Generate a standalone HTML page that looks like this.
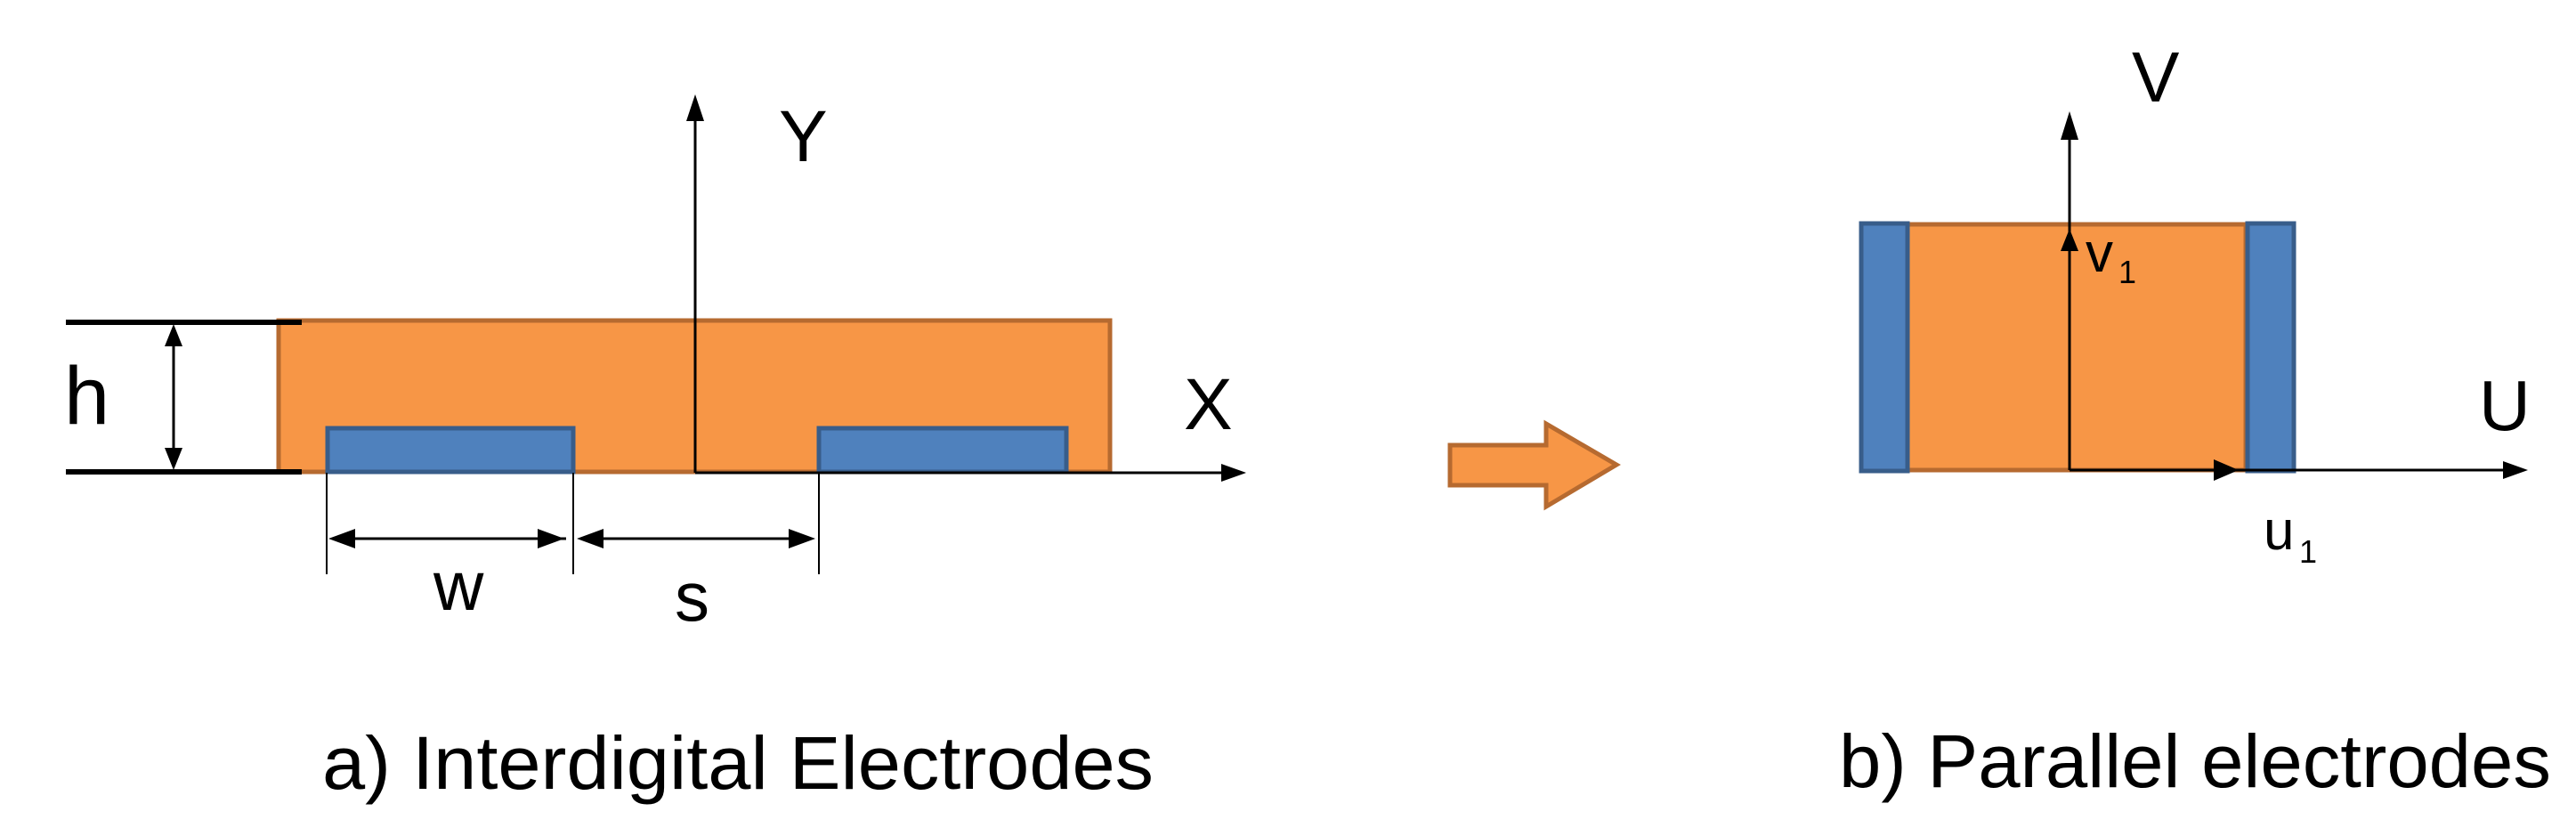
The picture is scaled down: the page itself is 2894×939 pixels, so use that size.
<!DOCTYPE html>
<html><head><style>html,body{margin:0;padding:0;background:#fff}svg{display:block}</style></head>
<body>
<svg width="2894" height="939" viewBox="0 0 2894 939" xmlns="http://www.w3.org/2000/svg" font-family="'Liberation Sans', sans-serif">
<defs>
<marker id="ah" viewBox="0 0 10 10" refX="9" refY="5" markerWidth="7" markerHeight="7" orient="auto-start-reverse" markerUnits="userSpaceOnUse">
</marker>
</defs>
<!-- a) -->
<rect x="313" y="360" width="934" height="170" fill="#F79646" stroke="#B66A30" stroke-width="5"/>
<rect x="368" y="481" width="276" height="49" fill="#4F81BD" stroke="#385D8A" stroke-width="5"/>
<rect x="920" y="481" width="278" height="49" fill="#4F81BD" stroke="#385D8A" stroke-width="5"/>
<line x1="74" y1="362" x2="339" y2="362" stroke="#000" stroke-width="6"/>
<line x1="74" y1="530" x2="339" y2="530" stroke="#000" stroke-width="6"/>
<line x1="195" y1="385" x2="195" y2="508" stroke="#000" stroke-width="3"/>
<polygon points="195,364 185,389 205,389" fill="#000"/>
<polygon points="195,528 185,503 205,503" fill="#000"/>
<text x="72" y="476" font-size="92">h</text>
<!-- axes a -->
<line x1="781" y1="130" x2="781" y2="531" stroke="#000" stroke-width="3"/>
<polygon points="781,106 771,136 791,136" fill="#000"/>
<line x1="781" y1="531" x2="1375" y2="531" stroke="#000" stroke-width="3"/>
<polygon points="1400,531 1372,521 1372,541" fill="#000"/>
<text x="875" y="181" font-size="82">Y</text>
<text x="1330" y="482" font-size="82">X</text>
<!-- dims -->
<line x1="367" y1="531" x2="367" y2="645" stroke="#000" stroke-width="2"/>
<line x1="644" y1="531" x2="644" y2="645" stroke="#000" stroke-width="2"/>
<line x1="920" y1="531" x2="920" y2="645" stroke="#000" stroke-width="2"/>
<line x1="375" y1="605" x2="636" y2="605" stroke="#000" stroke-width="3"/>
<polygon points="369,605 399,594 399,616" fill="#000"/>
<polygon points="634,605 604,594 604,616" fill="#000"/>
<line x1="652" y1="605" x2="912" y2="605" stroke="#000" stroke-width="3"/>
<polygon points="648,605 678,594 678,616" fill="#000"/>
<polygon points="916,605 886,594 886,616" fill="#000"/>
<text x="487" y="685" font-size="78">w</text>
<text x="758" y="697" font-size="78">s</text>
<text x="362" y="886" font-size="84" textLength="934" lengthAdjust="spacingAndGlyphs">a) Interdigital Electrodes</text>
<!-- transform arrow -->
<polygon points="1629,500 1737,500 1737,476 1816,522 1737,569 1737,545 1629,545" fill="#F79646" stroke="#B66A30" stroke-width="5"/>
<!-- b) -->
<rect x="2143" y="252" width="380" height="276" fill="#F79646" stroke="#B66A30" stroke-width="5"/>
<rect x="2091" y="251" width="52" height="278" fill="#4F81BD" stroke="#385D8A" stroke-width="5"/>
<rect x="2525" y="251" width="52" height="278" fill="#4F81BD" stroke="#385D8A" stroke-width="5"/>
<line x1="2325" y1="150" x2="2325" y2="528" stroke="#000" stroke-width="3"/>
<polygon points="2325,125 2315,157 2335,157" fill="#000"/>
<polygon points="2325,257 2315,282 2335,282" fill="#000"/>
<line x1="2325" y1="528" x2="2815" y2="528" stroke="#000" stroke-width="3"/>
<polygon points="2840,528 2812,518 2812,538" fill="#000"/>
<polygon points="2515,528 2487,516 2487,540" fill="#000"/>
<text x="2395" y="114" font-size="80">V</text>
<text x="2343" y="305" font-size="62">v</text>
<text x="2380" y="318" font-size="36">1</text>
<text x="2785" y="483" font-size="80">U</text>
<text x="2543" y="617" font-size="62">u</text>
<text x="2583" y="632" font-size="36">1</text>
<text x="2066" y="884" font-size="84" textLength="800" lengthAdjust="spacingAndGlyphs">b) Parallel electrodes</text>
</svg>
</body></html>
